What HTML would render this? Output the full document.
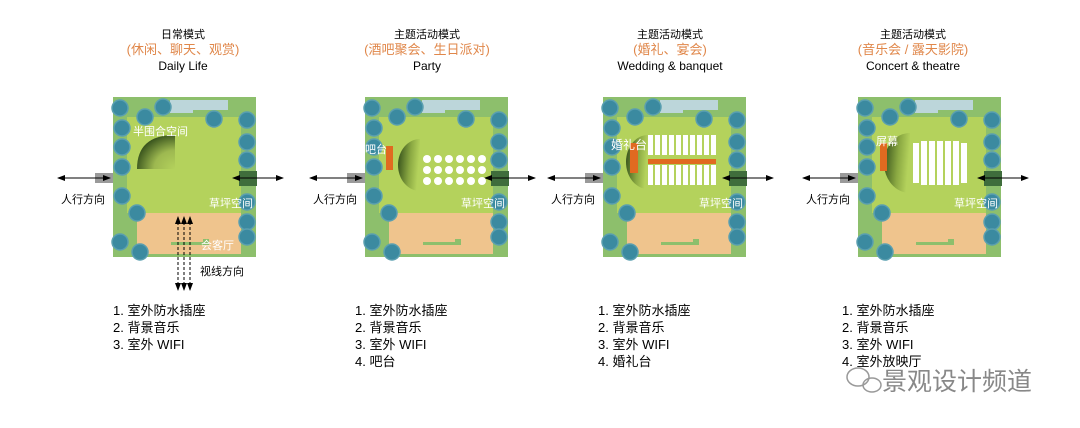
<!DOCTYPE html><html><head><meta charset="utf-8"><style>body{margin:0;background:#fff}svg{display:block}text{font-family:"Liberation Sans","Noto Sans CJK SC",sans-serif}</style></head><body>
<svg width="1080" height="428" viewBox="0 0 1080 428">
<defs>
<linearGradient id="g" x1="0" y1="0" x2="1" y2="0.2"><stop offset="0" stop-color="#2f4a18"/><stop offset="0.6" stop-color="#8aa842"/><stop offset="1" stop-color="#b4d25c"/></linearGradient>
<radialGradient id="h" cx="1" cy="1" r="1.1"><stop offset="0" stop-color="#b4d25c"/><stop offset="0.5" stop-color="#9db850"/><stop offset="1" stop-color="#2f4a18"/></radialGradient>
<marker id="a" markerWidth="8" markerHeight="6" refX="7" refY="3" orient="auto"><path d="M0,0L8,3L0,6z" fill="#000"/></marker>
<marker id="b" markerWidth="8" markerHeight="6" refX="1" refY="3" orient="auto"><path d="M8,0L0,3L8,6z" fill="#000"/></marker>
<g id="base">
<rect x="0" y="0" width="143" height="160" fill="#8dbf6c"/>
<path d="M57,3H115V13H80V16H57z" fill="#bcd6da"/>
<rect x="14" y="20" width="114" height="96" fill="#b4d25c"/>
<rect x="24" y="116" width="104" height="41" fill="#efc48d"/>
<path d="M58,145H90V142H96V148H58z" fill="#8dbf6c"/>
<rect x="-18" y="76" width="18" height="10" fill="#9a9a9a"/>
<rect x="126" y="74" width="18" height="15" fill="#3f6d3c"/>
<g fill="#3b8aa0" stroke="#5a9fb0" stroke-width="1.5">
<circle cx="7" cy="11" r="8"/><circle cx="32" cy="20" r="8"/><circle cx="50" cy="10" r="8"/><circle cx="101" cy="22" r="8"/><circle cx="134" cy="23" r="8"/>
<circle cx="9" cy="31" r="8"/><circle cx="9" cy="50" r="8"/><circle cx="9" cy="70" r="8"/><circle cx="9" cy="99" r="8"/><circle cx="24" cy="116" r="8"/><circle cx="7" cy="145" r="8"/><circle cx="27" cy="155" r="8"/>
<circle cx="134" cy="45" r="8"/><circle cx="134" cy="63" r="8"/><circle cx="134" cy="105" r="8"/><circle cx="134" cy="125" r="8"/><circle cx="134" cy="140" r="8"/>
</g>
<line x1="-55" y1="81" x2="-3" y2="81" stroke="#000" marker-end="url(#a)" marker-start="url(#b)"/>
<line x1="120" y1="81" x2="170" y2="81" stroke="#000" marker-end="url(#a)" marker-start="url(#b)"/>
<text x="-52" y="106" font-size="11">人行方向</text>
<text x="96" y="110" font-size="11" fill="#fff">草坪空间</text>
</g>
</defs>
<g font-size="11" text-anchor="middle">
<text x="183" y="38">日常模式</text><text x="183" y="54" font-size="13" fill="#e0874a">(休闲、聊天、观赏)</text><text x="183" y="70" font-size="12">Daily Life</text>
<text x="427" y="38">主题活动模式</text><text x="427" y="54" font-size="13" fill="#e0874a">(酒吧聚会、生日派对)</text><text x="427" y="70" font-size="12">Party</text>
<text x="670" y="38">主题活动模式</text><text x="670" y="54" font-size="13" fill="#e0874a">(婚礼、宴会)</text><text x="670" y="70" font-size="12">Wedding &amp; banquet</text>
<text x="913" y="38">主题活动模式</text><text x="913" y="54" font-size="13" fill="#e0874a">(音乐会 / 露天影院)</text><text x="913" y="70" font-size="12">Concert &amp; theatre</text>
</g>
<!-- P1 -->
<g transform="translate(113,97)"><use href="#base"/>
<path d="M24,72 Q24,38 62,38 L62,72z" fill="url(#h)"/>
<text x="20" y="38" font-size="11" fill="#fff">半围合空间</text>
<text x="88" y="152" font-size="11" fill="#fff">会客厅</text>
<g stroke="#000" stroke-dasharray="3,2"><line x1="65" y1="120" x2="65" y2="193" marker-end="url(#a)" marker-start="url(#b)"/><line x1="71" y1="120" x2="71" y2="193" marker-end="url(#a)" marker-start="url(#b)"/><line x1="77" y1="120" x2="77" y2="193" marker-end="url(#a)" marker-start="url(#b)"/></g>
<text x="87" y="178" font-size="11">视线方向</text>
</g>
<!-- P2 -->
<g transform="translate(365,97)"><use href="#base"/>
<path d="M55,42 A22,26 0 0 0 55,94z" fill="url(#g)"/>
<rect x="21" y="49" width="7" height="24" fill="#e06a20"/>
<text x="0" y="56" font-size="11" fill="#fff">吧台</text>
<g fill="#fff">
<g id="r"><circle cx="62" cy="62" r="4"/><circle cx="73" cy="62" r="4"/><circle cx="84" cy="62" r="4"/><circle cx="95" cy="62" r="4"/><circle cx="106" cy="62" r="4"/><circle cx="117" cy="62" r="4"/></g>
<use href="#r" y="11"/><use href="#r" y="22"/></g>
</g>
<!-- P3 -->
<g transform="translate(603,97)"><use href="#base"/>
<path d="M45,38 A22,27 0 0 0 45,92z" fill="url(#g)"/>
<rect x="27" y="46" width="8" height="30" fill="#e06a20"/>
<text x="8" y="52" font-size="12" fill="#fff">婚礼台</text>
<g fill="#fff"><g id="s"><rect x="45" y="38" width="5" height="20"/><rect x="52" y="38" width="5" height="20"/><rect x="59" y="38" width="5" height="20"/><rect x="66" y="38" width="5" height="20"/><rect x="73" y="38" width="5" height="20"/><rect x="80" y="38" width="5" height="20"/><rect x="87" y="38" width="5" height="20"/><rect x="94" y="38" width="5" height="20"/><rect x="101" y="38" width="5" height="20"/><rect x="108" y="38" width="5" height="20"/></g><use href="#s" y="30"/></g>
<rect x="45" y="62" width="68" height="5" fill="#e06a20"/>
</g>
<!-- P4 -->
<g transform="translate(858,97)"><use href="#base"/>
<path d="M52,36 A26,30 0 0 0 52,96z" fill="url(#g)"/>
<rect x="22" y="46" width="7" height="28" fill="#e06a20"/>
<text x="18" y="48" font-size="11" fill="#fff">屏幕</text>
<g fill="#fff"><rect x="55" y="46" width="6" height="40"/><rect x="63" y="44" width="6" height="44"/><rect x="71" y="44" width="6" height="44"/><rect x="79" y="44" width="6" height="44"/><rect x="87" y="44" width="6" height="44"/><rect x="95" y="44" width="6" height="44"/><rect x="103" y="46" width="6" height="40"/></g>
</g>
<g font-size="13">
<text x="113" y="315">1. 室外防水插座</text><text x="113" y="332">2. 背景音乐</text><text x="113" y="349">3. 室外 WIFI</text>
<text x="355" y="315">1. 室外防水插座</text><text x="355" y="332">2. 背景音乐</text><text x="355" y="349">3. 室外 WIFI</text><text x="355" y="366">4. 吧台</text>
<text x="598" y="315">1. 室外防水插座</text><text x="598" y="332">2. 背景音乐</text><text x="598" y="349">3. 室外 WIFI</text><text x="598" y="366">4. 婚礼台</text>
<text x="842" y="315">1. 室外防水插座</text><text x="842" y="332">2. 背景音乐</text><text x="842" y="349">3. 室外 WIFI</text><text x="842" y="366">4. 室外放映厅</text>
</g>
<g fill="none" stroke="#999" stroke-width="1.5"><ellipse cx="858" cy="377" rx="11" ry="9"/><ellipse cx="872" cy="385" rx="9" ry="7"/></g>
<text x="882" y="390" font-size="25" fill="#888">景观设计频道</text>
</svg></body></html>
